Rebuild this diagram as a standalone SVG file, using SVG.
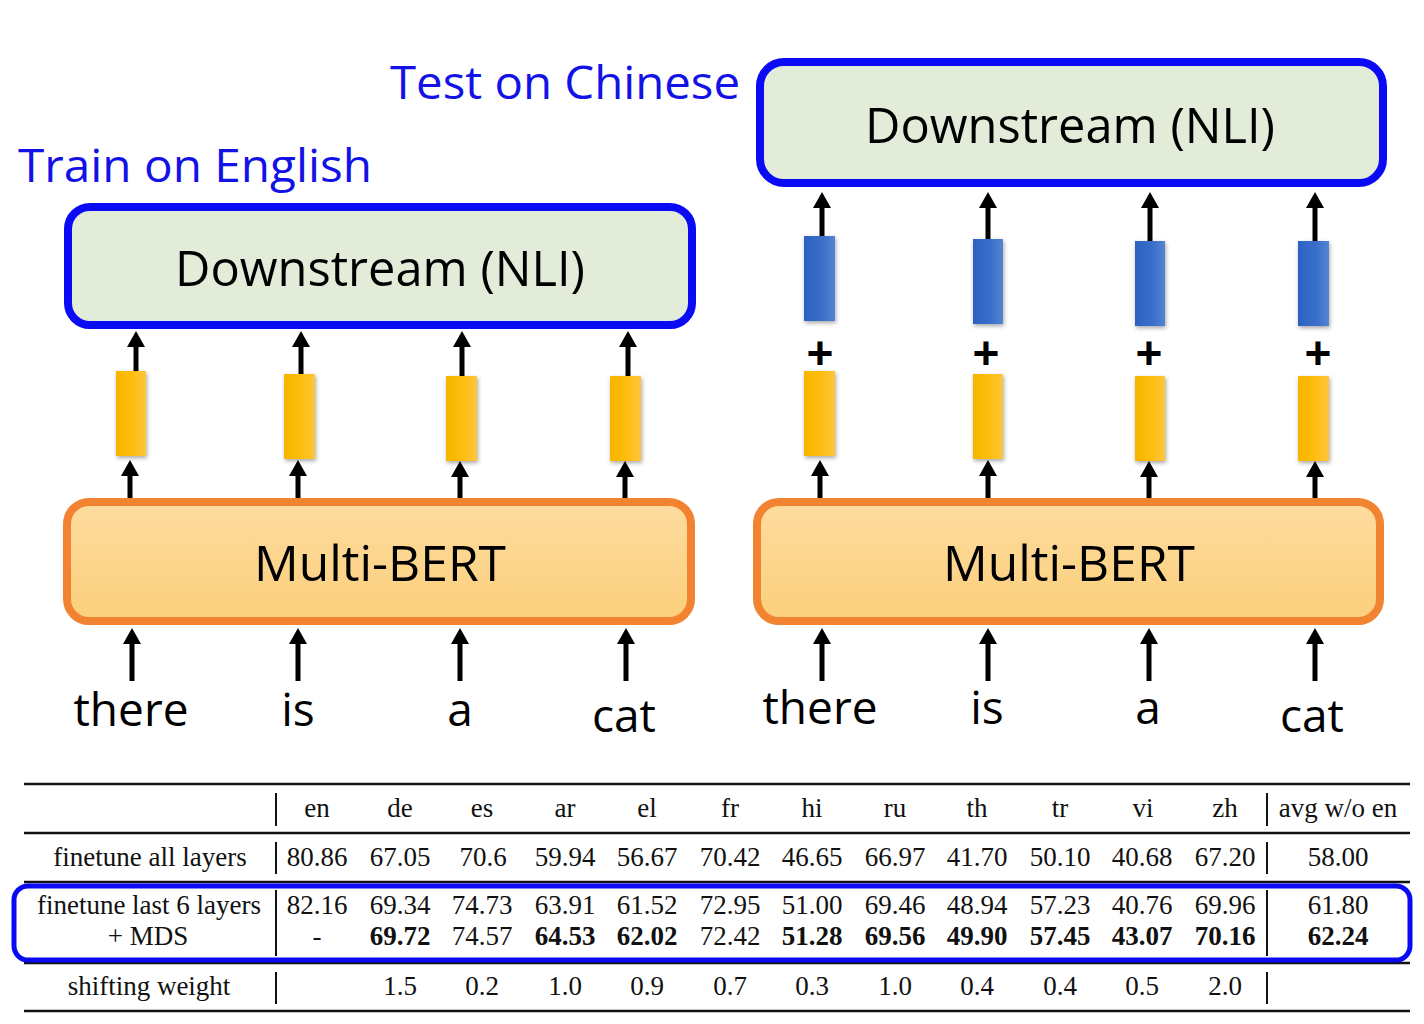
<svg xmlns="http://www.w3.org/2000/svg" width="1424" height="1024" viewBox="0 0 1424 1024">
<defs>
<linearGradient id="gOrange" x1="0" y1="0" x2="0" y2="1"><stop offset="0" stop-color="#fedc9f"/><stop offset="1" stop-color="#fbcf7b"/></linearGradient>
<linearGradient id="gYellow" x1="0" y1="0" x2="1" y2="0"><stop offset="0" stop-color="#f7b500"/><stop offset="0.5" stop-color="#fdbd0a"/><stop offset="1" stop-color="#fdc63c"/></linearGradient>
<linearGradient id="gBlue" x1="0" y1="0" x2="1" y2="0"><stop offset="0" stop-color="#2c62c2"/><stop offset="0.6" stop-color="#3a6fca"/><stop offset="1" stop-color="#5484d2"/></linearGradient>
<filter id="shadow" x="-40%" y="-20%" width="180%" height="140%"><feDropShadow dx="1" dy="2" stdDeviation="2" flood-color="#000" flood-opacity="0.35"/></filter>
<marker id="ah" viewBox="0 0 16 18" refX="5" refY="9" markerWidth="16" markerHeight="18" markerUnits="userSpaceOnUse" orient="auto"><path d="M0,0 L16,9 L0,18 z" fill="#000"/></marker>
<style>
.nli{fill:#e2ecd9;stroke:#0a0af5;stroke-width:8}
.bert{fill:url(#gOrange);stroke:#f28330;stroke-width:8}
.big{font-family:"Open Sans","Liberation Sans",sans-serif;font-size:50px;fill:#000;text-anchor:middle}
.title{font-family:"Open Sans","Liberation Sans",sans-serif;font-size:46px;fill:#1212e6}
.word{font-family:"Open Sans","Liberation Sans",sans-serif;font-size:46px;fill:#000;text-anchor:middle}
.plus{font-family:"Liberation Sans",sans-serif;font-size:46px;font-weight:bold;fill:#000;text-anchor:middle}
.ybar{fill:url(#gYellow);filter:url(#shadow)}
.bbar{fill:url(#gBlue);filter:url(#shadow)}
.arr{stroke:#000;stroke-width:5;fill:none;marker-end:url(#ah)}
.t{font-family:"Liberation Serif","Times New Roman",serif;font-size:27px;fill:#111;text-anchor:middle}
.b{font-weight:bold}
.rule{stroke:#111;stroke-width:2.5}
.sep{stroke:#111;stroke-width:2}
</style>
</defs>
<rect width="1424" height="1024" fill="#ffffff"/>

<text class="title" x="390" y="99" textLength="350" lengthAdjust="spacingAndGlyphs">Test on Chinese</text>
<text class="title" x="18" y="182" textLength="354" lengthAdjust="spacingAndGlyphs">Train on English</text>

<g id="downstream-left"><rect class="nli" x="68" y="207" width="624" height="118" rx="22"/><text class="big" x="380" y="286" textLength="410" lengthAdjust="spacingAndGlyphs">Downstream (NLI)</text></g>
<g id="downstream-right"><rect class="nli" x="760" y="62" width="623" height="121" rx="24"/><text class="big" x="1070" y="143" textLength="410" lengthAdjust="spacingAndGlyphs">Downstream (NLI)</text></g>
<g id="bert-left"><rect class="bert" x="67" y="502" width="624" height="119" rx="22"/><text class="big" x="380" y="581" textLength="252" lengthAdjust="spacingAndGlyphs">Multi-BERT</text></g>
<g id="bert-right"><rect class="bert" x="757" y="502" width="623" height="119" rx="22"/><text class="big" x="1069" y="581" textLength="252" lengthAdjust="spacingAndGlyphs">Multi-BERT</text></g>

<g id="vectors-left">
<rect class="ybar" x="116" y="371" width="30" height="85"/>
<rect class="ybar" x="284" y="374" width="31" height="85"/>
<rect class="ybar" x="446" y="376" width="31" height="85"/>
<rect class="ybar" x="610" y="376" width="31" height="85"/>
</g>
<g id="vectors-right">
<rect class="bbar" x="804" y="236" width="31" height="85"/>
<rect class="bbar" x="973" y="239" width="30" height="85"/>
<rect class="bbar" x="1135" y="241" width="30" height="85"/>
<rect class="bbar" x="1298" y="241" width="31" height="85"/>
<text class="plus" x="820" y="369">+</text>
<text class="plus" x="986" y="369">+</text>
<text class="plus" x="1149" y="369">+</text>
<text class="plus" x="1318" y="369">+</text>
<rect class="ybar" x="804" y="371" width="31" height="85"/>
<rect class="ybar" x="973" y="374" width="30" height="85"/>
<rect class="ybar" x="1135" y="376" width="30" height="85"/>
<rect class="ybar" x="1298" y="376" width="31" height="85"/>
</g>

<g id="words">
<text class="word" x="131" y="726">there</text>
<text class="word" x="298" y="726">is</text>
<text class="word" x="460" y="726">a</text>
<text class="word" x="624" y="732">cat</text>
<text class="word" x="820" y="724">there</text>
<text class="word" x="987" y="724">is</text>
<text class="word" x="1148" y="724">a</text>
<text class="word" x="1312" y="732">cat</text>
</g>

<g id="connectors">
<line class="arr" x1="136" y1="371" x2="136" y2="342"/>
<line class="arr" x1="301" y1="374" x2="301" y2="342"/>
<line class="arr" x1="462" y1="376" x2="462" y2="342"/>
<line class="arr" x1="628" y1="376" x2="628" y2="342"/>
<line class="arr" x1="130" y1="498" x2="130" y2="471"/>
<line class="arr" x1="298" y1="498" x2="298" y2="471"/>
<line class="arr" x1="460" y1="498" x2="460" y2="472"/>
<line class="arr" x1="625" y1="498" x2="625" y2="472"/>
<line class="arr" x1="132" y1="681" x2="132" y2="639"/>
<line class="arr" x1="298" y1="681" x2="298" y2="639"/>
<line class="arr" x1="460" y1="681" x2="460" y2="639"/>
<line class="arr" x1="626" y1="681" x2="626" y2="639"/>
<line class="arr" x1="822" y1="236" x2="822" y2="203"/>
<line class="arr" x1="988" y1="239" x2="988" y2="203"/>
<line class="arr" x1="1150" y1="241" x2="1150" y2="203"/>
<line class="arr" x1="1315" y1="241" x2="1315" y2="203"/>
<line class="arr" x1="820" y1="498" x2="820" y2="471"/>
<line class="arr" x1="988" y1="498" x2="988" y2="471"/>
<line class="arr" x1="1149" y1="498" x2="1149" y2="472"/>
<line class="arr" x1="1315" y1="498" x2="1315" y2="472"/>
<line class="arr" x1="822" y1="681" x2="822" y2="639"/>
<line class="arr" x1="988" y1="681" x2="988" y2="639"/>
<line class="arr" x1="1149" y1="681" x2="1149" y2="639"/>
<line class="arr" x1="1315" y1="681" x2="1315" y2="639"/>
</g>

<g id="table">
<line class="rule" x1="24" y1="784" x2="1410" y2="784" stroke-width="3"/>
<line class="rule" x1="24" y1="833" x2="1410" y2="833"/>
<line class="rule" x1="24" y1="882" x2="1410" y2="882" stroke="#555"/>
<line class="rule" x1="24" y1="963" x2="1410" y2="963" stroke="#555"/>
<line class="rule" x1="24" y1="1011" x2="1410" y2="1011" stroke-width="3"/>
<rect x="14" y="886" width="1396" height="74" rx="14" fill="none" stroke="#0a0af5" stroke-width="5"/>

<line class="sep" x1="276" y1="793" x2="276" y2="826"/>
<line class="sep" x1="276" y1="842" x2="276" y2="874"/>
<line class="sep" x1="276" y1="890" x2="276" y2="956"/>
<line class="sep" x1="276" y1="972" x2="276" y2="1004"/>
<line class="sep" x1="1267" y1="793" x2="1267" y2="826"/>
<line class="sep" x1="1267" y1="842" x2="1267" y2="874"/>
<line class="sep" x1="1267" y1="890" x2="1267" y2="956"/>
<line class="sep" x1="1267" y1="972" x2="1267" y2="1004"/>

<g id="header">
<text class="t" x="317" y="817">en</text><text class="t" x="400" y="817">de</text><text class="t" x="482" y="817">es</text><text class="t" x="565" y="817">ar</text><text class="t" x="647" y="817">el</text><text class="t" x="730" y="817">fr</text><text class="t" x="812" y="817">hi</text><text class="t" x="895" y="817">ru</text><text class="t" x="977" y="817">th</text><text class="t" x="1060" y="817">tr</text><text class="t" x="1143" y="817">vi</text><text class="t" x="1225" y="817">zh</text><text class="t" x="1338" y="817">avg w/o en</text>
</g>
<g id="row1">
<text class="t" x="150" y="866">finetune all layers</text>
<text class="t" x="317" y="866">80.86</text><text class="t" x="400" y="866">67.05</text><text class="t" x="483" y="866">70.6</text><text class="t" x="565" y="866">59.94</text><text class="t" x="647" y="866">56.67</text><text class="t" x="730" y="866">70.42</text><text class="t" x="812" y="866">46.65</text><text class="t" x="895" y="866">66.97</text><text class="t" x="977" y="866">41.70</text><text class="t" x="1060" y="866">50.10</text><text class="t" x="1142" y="866">40.68</text><text class="t" x="1225" y="866">67.20</text><text class="t" x="1338" y="866">58.00</text>
</g>
<g id="row2">
<text class="t" x="149" y="914">finetune last 6 layers</text>
<text class="t" x="317" y="914">82.16</text><text class="t" x="400" y="914">69.34</text><text class="t" x="482" y="914">74.73</text><text class="t" x="565" y="914">63.91</text><text class="t" x="647" y="914">61.52</text><text class="t" x="730" y="914">72.95</text><text class="t" x="812" y="914">51.00</text><text class="t" x="895" y="914">69.46</text><text class="t" x="977" y="914">48.94</text><text class="t" x="1060" y="914">57.23</text><text class="t" x="1142" y="914">40.76</text><text class="t" x="1225" y="914">69.96</text><text class="t" x="1338" y="914">61.80</text>
</g>
<g id="row3">
<text class="t" x="148" y="945">+ MDS</text>
<text class="t" x="317" y="945">-</text><text class="t b" x="400" y="945">69.72</text><text class="t" x="482" y="945">74.57</text><text class="t b" x="565" y="945">64.53</text><text class="t b" x="647" y="945">62.02</text><text class="t" x="730" y="945">72.42</text><text class="t b" x="812" y="945">51.28</text><text class="t b" x="895" y="945">69.56</text><text class="t b" x="977" y="945">49.90</text><text class="t b" x="1060" y="945">57.45</text><text class="t b" x="1142" y="945">43.07</text><text class="t b" x="1225" y="945">70.16</text><text class="t b" x="1338" y="945">62.24</text>
</g>
<g id="row4">
<text class="t" x="149" y="995">shifting weight</text>
<text class="t" x="400" y="995">1.5</text><text class="t" x="482" y="995">0.2</text><text class="t" x="565" y="995">1.0</text><text class="t" x="647" y="995">0.9</text><text class="t" x="730" y="995">0.7</text><text class="t" x="812" y="995">0.3</text><text class="t" x="895" y="995">1.0</text><text class="t" x="977" y="995">0.4</text><text class="t" x="1060" y="995">0.4</text><text class="t" x="1142" y="995">0.5</text><text class="t" x="1225" y="995">2.0</text>
</g>
</g>
</svg>
